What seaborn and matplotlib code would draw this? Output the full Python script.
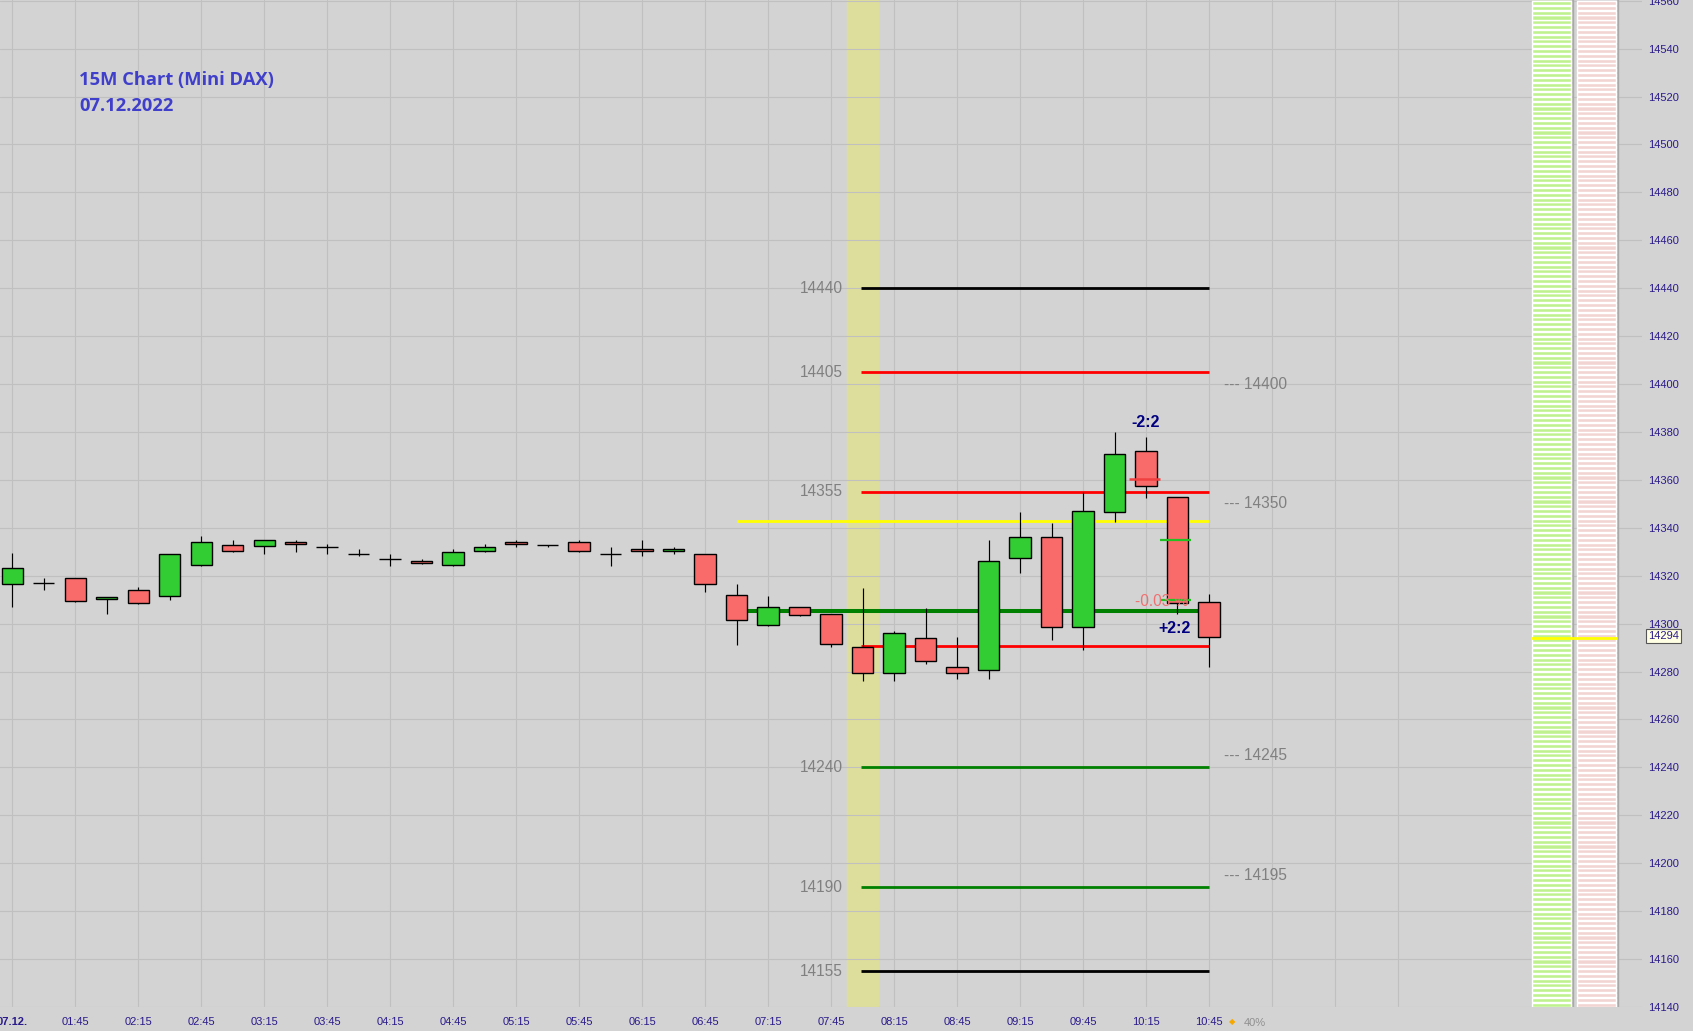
import numpy as np
import pandas as pd
import matplotlib
matplotlib.use("Agg")
import matplotlib.pyplot as plt
import matplotlib.transforms as mtransforms
from matplotlib.patches import Rectangle
import seaborn as sns

# 15 minute candles, 01:15 .. 10:45
opens = [14316.7, 14317.1, 14319.2, 14310.3, 14314.2, 14311.7, 14324.6, 14332.9, 14332.5, 14334.2,
         14332.0, 14329.1, 14327.0, 14326.3, 14324.6, 14330.4, 14334.2, 14332.9, 14334.2, 14329.2,
         14331.3, 14330.4, 14329.2, 14312.1, 14299.6, 14307.1, 14304.2, 14290.4, 14279.6, 14294.2,
         14282.1, 14280.8, 14327.5, 14336.3, 14298.8, 14346.7, 14372.1, 14352.9, 14309.2]
highs = [14329.3, 14319.2, 14319.2, 14311.3, 14315.1, 14329.2, 14336.4, 14335.1, 14335.0, 14335.1,
         14333.1, 14331.3, 14329.2, 14327.1, 14331.3, 14333.1, 14335.1, 14332.9, 14335.1, 14332.2,
         14335.1, 14332.2, 14329.2, 14316.4, 14311.4, 14307.1, 14304.2, 14315.0, 14297.1, 14306.4,
         14294.3, 14335.1, 14346.4, 14342.2, 14355.1, 14380.1, 14378.1, 14352.9, 14312.4]
lows = [14306.9, 14314.0, 14309.0, 14304.0, 14308.2, 14309.9, 14324.0, 14329.9, 14329.0, 14329.9,
        14329.0, 14328.3, 14324.0, 14324.9, 14324.0, 14329.9, 14331.9, 14331.9, 14329.9, 14324.0,
        14328.2, 14329.0, 14313.2, 14291.1, 14299.0, 14303.2, 14290.3, 14276.1, 14276.1, 14283.2,
        14276.9, 14276.9, 14321.1, 14293.2, 14289.0, 14342.6, 14352.6, 14304.0, 14281.9]
closes = [14323.3, 14317.1, 14309.6, 14311.3, 14308.8, 14329.2, 14334.2, 14330.4, 14335.0, 14333.3,
          14331.8, 14328.9, 14326.8, 14325.4, 14330.0, 14332.1, 14333.3, 14332.7, 14330.4, 14329.2,
          14330.4, 14331.3, 14316.7, 14301.7, 14307.1, 14303.8, 14291.5, 14279.6, 14296.3, 14284.6,
          14279.6, 14326.3, 14336.3, 14298.8, 14347.1, 14370.8, 14357.5, 14308.6, 14294.6]

time_labels = ["07.12.", "01:45", "02:15", "02:45", "03:15", "03:45", "04:15", "04:45", "05:15",
               "05:45", "06:15", "06:45", "07:15", "07:45", "08:15", "08:45", "09:15", "09:45",
               "10:15", "10:45"]

# support / resistance levels (left label, right label)
level_prices = [14440, 14405, 14355, 14240, 14190, 14155]
level_colors = ["black", "red", "red", "green", "green", "black"]
right_labels = [14400, 14350, 14245, 14195]

yellow_level = 14343.0
green_level = 14305.3
open_level = 14290.7
last_price = 14294

BG = "#d3d3d3"
GRID = "#c0c0c0"
NAVY = "#2a1a8a"


def draw_candles(ax, df):
    ''' wicks and bodies, green up / red down '''
    cols = np.where(df.close > df.open, "#32cd32",
                    np.where(df.close < df.open, "#f96a6a", "black"))
    ax.vlines(df.x, df.low, df.high, color="black", lw=0.85, zorder=5)
    ax.bar(df.x, df.close - df.open, bottom=df.open, width=0.68, color=cols,
           edgecolor="black", linewidth=1.0, zorder=6)


def draw_levels(ax):
    for p, c in zip(level_prices, level_colors):
        ax.hlines(p, 26.95, 38.0, colors=c, lw=2.0, zorder=3)
        ax.text(26.38, p, str(p), ha="right", va="center", color="#808080", fontsize=11.2)
    for p in right_labels:
        ax.text(38.48, p, "--- " + str(p), ha="left", va="center", color="#808080", fontsize=11.2)
    ax.hlines(yellow_level, 23.0, 38.0, colors="#ffff00", lw=2.0, zorder=3)
    ax.hlines(green_level, 23.0, 38.0, colors="#008000", lw=2.9, zorder=3)
    ax.hlines(open_level, 26.95, 38.0, colors="#ff0000", lw=2.0, zorder=3)


def draw_profile(ax):
    ''' the two striped bars at the right edge '''
    ylo, yhi = 14140, 14561
    stripes = np.arange(ylo + 1, yhi, 2)
    for left, w, fill, sep in [(48.25, 1.24, "#bff28e", "#d4dcc8"),
                               (49.68, 1.24, "#f2d4d2", "#d8d8dc")]:
        ax.add_patch(Rectangle((left + 0.07, ylo - 0.9), w, yhi - ylo + 1, color="#a9a9a9", zorder=2))
        ax.add_patch(Rectangle((left, ylo - 0.2), w, yhi - ylo + 1, color=sep, zorder=3))
        ax.barh(stripes, w, left=left, height=1.7, color=fill, zorder=4)
    ax.hlines(last_price, 48.22, 50.95, colors="#ffff00", lw=2.0, zorder=7)


def main():
    sns.set_theme(style="whitegrid", rc={"axes.facecolor": BG, "figure.facecolor": BG,
                                         "grid.color": GRID, "grid.linewidth": 0.8})
    plt.rcParams["font.family"] = ["Liberation Sans", "DejaVu Sans"]

    df = pd.DataFrame({"open": opens, "high": highs, "low": lows, "close": closes})
    df["x"] = np.arange(len(df))

    fig = plt.figure(figsize=(16.93, 10.31), dpi=100)
    ax = fig.add_axes([0, 24 / 1031, 1642 / 1693, 1007 / 1031])
    ax.set_xlim(-0.39, 51.75)
    ax.set_ylim(14140, 14560.3)

    # yellow 08:00 column
    ax.axvspan(26.5, 27.5, color="#dede9c", zorder=0.2)

    draw_levels(ax)
    draw_candles(ax, df)
    draw_profile(ax)

    # markers on the last candles
    ax.hlines(14360.4, 35.46, 36.44, colors="#f04040", lw=1.8, zorder=8)
    ax.hlines([14334.9, 14309.9], 36.45, 37.43, colors="#22c022", lw=1.6, zorder=8)
    ax.text(36.5, 14309.2, "-0.03 %", ha="center", va="center", color="#f07070",
            fontsize=11.2, zorder=9)
    ax.text(36.0, 14383.8, "-2:2", ha="center", va="center", color="#000080",
            fontsize=11.5, fontweight="bold", zorder=9)
    ax.text(36.9, 14297.9, "+2:2", ha="center", va="center", color="#000080",
            fontsize=11.5, fontweight="bold", zorder=9)

    # axes / ticks
    xt = list(range(0, 45, 2))
    ax.set_xticks(xt)
    ax.set_xticklabels(time_labels + [""] * (len(xt) - len(time_labels)))
    ax.set_yticks(range(14140, 14561, 20))
    ax.yaxis.tick_right()
    ax.tick_params(axis="x", length=0, pad=7, labelsize=8, labelcolor=NAVY)
    ax.tick_params(axis="y", length=0, pad=4.3, labelsize=8, labelcolor=NAVY)
    ax.get_xticklabels()[0].set_fontweight("bold")
    ax.grid(True, color=GRID, lw=0.8)
    for s in ax.spines.values():
        s.set_visible(False)

    # last price box
    trans = mtransforms.blended_transform_factory(ax.transAxes, ax.transData)
    ax.text(1.0 + 6 / 1642, 14294.8, str(last_price), transform=trans, ha="left", va="center",
            fontsize=8, color=NAVY, clip_on=False,
            bbox=dict(boxstyle="square,pad=0.15", fc="#ffffe4", ec="#555555", lw=0.8))

    fig.text(79 / 1693, 1 - 85 / 1031, "15M Chart (Mini DAX)", color="#3f3fcc",
             fontsize=13.2, fontweight="bold", family=["Open Sans", "DejaVu Sans"])
    fig.text(79 / 1693, 1 - 110.7 / 1031, "07.12.2022", color="#3f3fcc",
             fontsize=13.2, fontweight="bold", family=["Open Sans", "DejaVu Sans"])

    fig.text(1232 / 1693, 1 - 1023 / 1031, "\u25c6", color="#f5a800", fontsize=6,
             ha="center", va="center")
    fig.text(1244 / 1693, 1 - 1023 / 1031, "40%", color="#909090", fontsize=8, va="center")

    fig.savefig("out.png", dpi=100, facecolor=BG)


if __name__ == "__main__":
    main()
